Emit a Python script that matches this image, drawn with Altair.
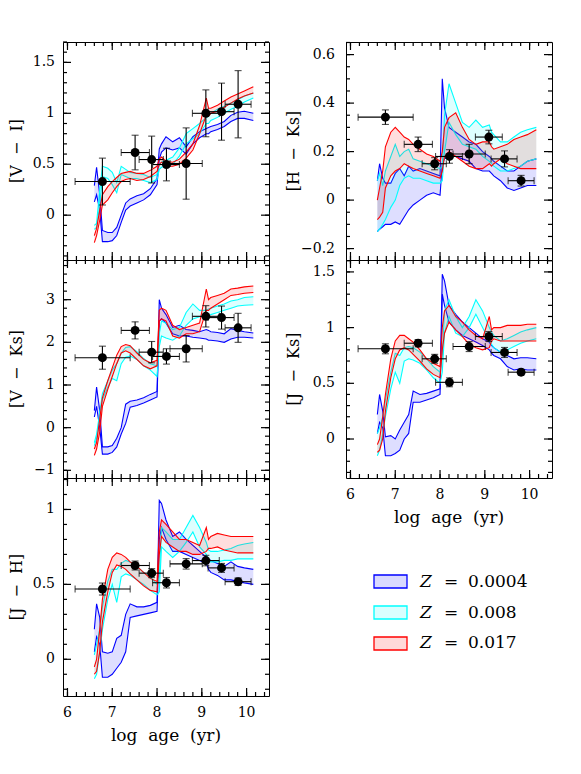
import altair as alt
import pandas as pd

FONT = "DejaVu Serif"
NB = "\u00a0"

# ---------------- model grid (log age) ----------------
AGE = [6.6, 6.65, 6.72, 6.78, 6.9, 7.0, 7.1, 7.2, 7.3, 7.4, 7.55, 7.7, 7.85, 8.0,
       8.05, 8.1, 8.2, 8.35, 8.5, 8.65, 8.8, 8.95, 9.1, 9.15, 9.2, 9.35, 9.5,
       9.65, 9.8, 9.95, 10.15]

Z_LABELS = ["0.0004", "0.008", "0.017"]
Z_COLORS = ["#0000ff", "#00ffff", "#ff0000"]

# ---------------- [V - I] ----------------
VI_BLUE_LO = [0.13, 0.2, 0.05, -0.26, -0.26, -0.25, -0.2, -0.07, 0.05, 0.09, 0.12, 0.15, 0.2, 0.3,
              0.55, 0.62, 0.66, 0.64, 0.66, 0.6, 0.7, 0.76, 0.8, 0.8, 0.82, 0.84, 0.87, 0.92, 0.95, 0.95, 0.93]
VI_BLUE_HI = [0.29, 0.47, 0.2, -0.15, -0.17, -0.17, -0.12, 0.0, 0.12, 0.16, 0.19, 0.21, 0.26, 0.36,
              0.65, 0.7, 0.77, 0.72, 0.76, 0.67, 0.77, 0.82, 0.85, 0.86, 0.87, 0.89, 0.92, 0.98, 1.01, 1.02, 1.0]
VI_CYAN_LO = [-0.14, -0.12, 0.1, 0.38, 0.36, 0.3, 0.22, 0.4, 0.38, 0.36, 0.36, 0.34, 0.32, 0.35,
              0.45, 0.47, 0.48, 0.5, 0.58, 0.7, 0.75, 0.8, 0.9, 0.9, 0.93, 0.96, 1.0, 1.04, 1.07, 1.11, 1.15]
VI_CYAN_HI = [-0.1, -0.08, 0.25, 0.48, 0.46, 0.42, 0.32, 0.48, 0.45, 0.42, 0.41, 0.4, 0.37, 0.4,
              0.5, 0.52, 0.54, 0.57, 0.66, 0.8, 0.85, 0.9, 0.96, 0.97, 1.0, 1.04, 1.07, 1.1, 1.13, 1.17, 1.2]
VI_RED_LO = [-0.27, -0.2, -0.05, 0.1, 0.15, 0.22, 0.28, 0.33, 0.35, 0.36, 0.34, 0.35, 0.38, 0.43,
             0.5, 0.52, 0.48, 0.48, 0.5, 0.56, 0.64, 0.8, 0.98, 0.97, 1.0, 1.02, 1.06, 1.1, 1.14, 1.17, 1.2]
VI_RED_HI = [-0.2, -0.13, 0.05, 0.2, 0.28, 0.33, 0.37, 0.41, 0.42, 0.43, 0.41, 0.41, 0.44, 0.48,
             0.55, 0.57, 0.53, 0.52, 0.55, 0.62, 0.7, 0.88, 1.15, 1.05, 1.05, 1.08, 1.12, 1.16, 1.19, 1.22, 1.26]

# ---------------- [H - Ks] ----------------
HK_BLUE_LO = [-0.13, -0.12, -0.11, -0.1, -0.1, -0.09, -0.1, -0.07, -0.04, -0.02, 0.0, 0.02, 0.03, 0.02,
              0.15, 0.17, 0.18, 0.18, 0.17, 0.16, 0.13, 0.12, 0.12, 0.11, 0.1, 0.08, 0.05, 0.04, 0.05, 0.06, 0.06]
HK_BLUE_HI = [0.08, 0.15, 0.09, 0.07, 0.07, 0.11, 0.13, 0.1, 0.14, 0.12, 0.13, 0.12, 0.11, 0.1,
              0.5, 0.38, 0.3, 0.28, 0.26, 0.24, 0.23, 0.2, 0.18, 0.17, 0.16, 0.14, 0.12, 0.12, 0.14, 0.16, 0.17]
HK_CYAN_LO = [-0.13, -0.12, -0.1, -0.08, -0.03, 0.0, 0.06, 0.09, 0.1, 0.09, 0.09, 0.08, 0.07, 0.07,
              0.08, 0.2, 0.32, 0.27, 0.23, 0.22, 0.21, 0.18, 0.16, 0.15, 0.14, 0.12, 0.12, 0.13, 0.14, 0.16, 0.17]
HK_CYAN_HI = [0.08, 0.11, 0.06, 0.12, 0.18, 0.23, 0.18, 0.2, 0.21, 0.17, 0.16, 0.15, 0.14, 0.13,
              0.14, 0.35, 0.48, 0.4, 0.32, 0.3, 0.33, 0.3, 0.31, 0.28, 0.27, 0.24, 0.24, 0.26, 0.28, 0.29, 0.3]
HK_RED_LO = [-0.08, -0.07, -0.05, 0.05, 0.1, 0.12, 0.13, 0.15, 0.14, 0.13, 0.12, 0.11, 0.1, 0.09,
             0.12, 0.18, 0.2, 0.18, 0.16, 0.14, 0.13, 0.13, 0.15, 0.14, 0.15, 0.17, 0.15, 0.14, 0.13, 0.13, 0.13]
HK_RED_HI = [0.0, 0.05, 0.12, 0.22, 0.28, 0.3, 0.28, 0.26, 0.25, 0.23, 0.21, 0.19, 0.18, 0.16,
             0.2, 0.3, 0.34, 0.36, 0.3, 0.25, 0.23, 0.24, 0.24, 0.22, 0.21, 0.22, 0.23, 0.25, 0.26, 0.27, 0.29]

# ---------------- [V - Ks] ----------------
VK_BLUE_LO = [0.25, 0.5, 0.0, -0.62, -0.62, -0.58, -0.45, -0.15, 0.1, 0.48, 0.52, 0.58, 0.65, 0.72,
              2.5, 2.55, 2.45, 2.2, 2.15, 2.15, 2.12, 2.1, 2.08, 2.05, 2.05, 2.03, 2.0, 2.08, 2.12, 2.12, 2.1]
VK_BLUE_HI = [0.4, 0.95, 0.4, -0.45, -0.45, -0.42, -0.25, 0.0, 0.55, 0.62, 0.65, 0.7, 0.78, 0.85,
              3.0, 2.8, 2.65, 2.35, 2.4, 2.3, 2.28, 2.25, 2.3, 2.28, 2.25, 2.23, 2.2, 2.32, 2.28, 2.25, 2.22]
VK_CYAN_LO = [-0.42, -0.25, 0.2, 0.65, 0.95, 1.15, 1.1, 1.5, 1.65, 1.68, 1.6, 1.45, 1.35, 1.2,
              1.9, 2.15, 2.1, 2.05, 2.15, 2.4, 2.55, 2.6, 2.62, 2.62, 2.65, 2.7, 2.75, 2.8, 2.85, 2.87, 2.88]
VK_CYAN_HI = [-0.35, -0.15, 0.35, 0.8, 1.1, 1.35, 1.5, 1.75, 1.88, 1.9, 1.78, 1.62, 1.5, 1.45,
              2.2, 2.5, 2.45, 2.3, 2.35, 2.7, 2.9, 2.75, 2.75, 2.78, 2.8, 2.85, 2.9, 2.97, 3.0, 3.05, 3.07]
VK_RED_LO = [-0.65, -0.5, -0.1, 0.5, 0.9, 1.2, 1.5, 1.75, 1.8, 1.75, 1.6, 1.45, 1.38, 1.45,
             2.5, 2.55, 2.5, 2.15, 2.1, 2.2, 2.2, 2.25, 2.75, 2.75, 2.8, 2.9, 3.0, 3.1, 3.12, 3.15, 3.17]
VK_RED_HI = [-0.5, -0.35, 0.2, 0.7, 1.1, 1.4, 1.7, 1.9, 1.95, 1.92, 1.75, 1.6, 1.52, 1.58,
             2.75, 2.8, 2.75, 2.4, 2.3, 2.35, 2.4, 2.45, 3.25, 3.0, 3.05, 3.1, 3.15, 3.25, 3.27, 3.3, 3.32]

# ---------------- [J - Ks] ----------------
JK_BLUE_LO = [0.05, 0.15, 0.1, -0.15, -0.15, -0.13, -0.1, 0.0, 0.05, 0.33, 0.33, 0.35, 0.37, 0.4,
              1.3, 1.2, 1.05, 0.98, 0.93, 0.9, 0.87, 0.84, 0.8, 0.77, 0.75, 0.72, 0.65, 0.62, 0.63, 0.62, 0.62]
JK_BLUE_HI = [0.22, 0.4, 0.25, 0.02, 0.03, 0.0, 0.08, 0.15, 0.22, 0.43, 0.4, 0.41, 0.43, 0.45,
              1.48, 1.42, 1.2, 1.12, 1.05, 1.0, 0.95, 0.9, 0.87, 0.84, 0.82, 0.78, 0.75, 0.72, 0.73, 0.73, 0.72]
JK_CYAN_LO = [-0.15, -0.1, 0.05, 0.2, 0.45, 0.6, 0.5, 0.7, 0.72, 0.71, 0.68, 0.62, 0.55, 0.5,
              0.6, 0.95, 1.1, 0.95, 0.92, 1.0, 1.12, 1.0, 0.88, 0.85, 0.82, 0.78, 0.8, 0.83, 0.86, 0.88, 0.9]
JK_CYAN_HI = [0.05, 0.1, 0.2, 0.35, 0.6, 0.77, 0.75, 0.82, 0.83, 0.82, 0.78, 0.72, 0.65, 0.6,
              0.75, 1.15, 1.25, 1.1, 1.0, 1.1, 1.25, 1.15, 1.0, 0.96, 0.93, 0.88, 0.9, 0.93, 0.96, 0.98, 1.0]
JK_RED_LO = [-0.12, -0.1, 0.0, 0.25, 0.55, 0.72, 0.8, 0.82, 0.8, 0.76, 0.7, 0.63, 0.58, 0.55,
             0.8, 0.95, 1.05, 0.98, 0.92, 0.85, 0.82, 0.8, 0.82, 0.88, 0.9, 0.88, 0.88, 0.88, 0.88, 0.88, 0.88]
JK_RED_HI = [-0.05, 0.0, 0.2, 0.4, 0.72, 0.88, 0.93, 0.93, 0.9, 0.87, 0.8, 0.72, 0.68, 0.65,
             1.0, 1.15, 1.2, 1.1, 1.05, 0.98, 0.93, 0.9, 1.1, 0.98, 1.0, 1.0, 1.02, 1.02, 1.02, 1.03, 1.03]

# ---------------- [J - H] ----------------
JH_BLUE_LO = [0.05, 0.15, 0.1, -0.12, -0.12, -0.1, -0.06, -0.02, 0.05, 0.28, 0.29, 0.3, 0.31, 0.32,
              0.8, 0.88, 0.8, 0.72, 0.72, 0.7, 0.68, 0.66, 0.64, 0.6, 0.58, 0.56, 0.53, 0.53, 0.52, 0.51, 0.5]
JH_BLUE_HI = [0.2, 0.37, 0.28, 0.05, 0.04, 0.05, 0.14, 0.16, 0.3, 0.37, 0.35, 0.35, 0.36, 0.38,
              1.06, 1.04, 0.93, 0.82, 0.85, 0.8, 0.76, 0.72, 0.68, 0.67, 0.66, 0.64, 0.62, 0.65, 0.62, 0.61, 0.6]
JH_CYAN_LO = [-0.13, -0.1, 0.05, 0.2, 0.4, 0.5, 0.38, 0.55, 0.57, 0.56, 0.53, 0.5, 0.46, 0.43,
              0.45, 0.75, 0.72, 0.68, 0.72, 0.78, 0.85, 0.75, 0.7, 0.66, 0.65, 0.65, 0.66, 0.66, 0.67, 0.67, 0.67]
JH_CYAN_HI = [0.03, 0.1, 0.2, 0.35, 0.52, 0.6, 0.6, 0.64, 0.66, 0.65, 0.62, 0.58, 0.55, 0.5,
              0.55, 0.88, 0.85, 0.8, 0.8, 0.88, 0.96, 0.88, 0.78, 0.73, 0.72, 0.72, 0.73, 0.74, 0.76, 0.77, 0.78]
JH_RED_LO = [-0.1, -0.08, 0.05, 0.25, 0.45, 0.58, 0.63, 0.62, 0.6, 0.57, 0.53, 0.49, 0.46, 0.45,
             0.7, 0.82, 0.78, 0.75, 0.72, 0.72, 0.7, 0.7, 0.72, 0.74, 0.74, 0.75, 0.73, 0.72, 0.71, 0.71, 0.71]
JH_RED_HI = [-0.05, 0.0, 0.2, 0.4, 0.6, 0.68, 0.71, 0.7, 0.68, 0.65, 0.62, 0.58, 0.54, 0.52,
             0.85, 0.93, 0.9, 0.85, 0.8, 0.8, 0.78, 0.76, 0.88, 0.8, 0.82, 0.84, 0.83, 0.82, 0.82, 0.82, 0.82]

# ---------------- cluster data points ----------------
PT_AGE = [6.78, 7.51, 7.88, 8.21, 8.65, 9.09, 9.44, 9.81]
PT_AGE_LO = [6.17, 7.2, 7.6, 7.9, 8.29, 8.79, 9.14, 9.52]
PT_AGE_HI = [7.4, 7.83, 8.14, 8.5, 9.01, 9.39, 9.72, 10.1]
VI_PT = [0.33, 0.615, 0.546, 0.497, 0.507, 1.0, 1.016, 1.089]
VI_ERR = [0.23, 0.17, 0.23, 0.16, 0.35, 0.23, 0.28, 0.33]
VK_PT = [1.64, 2.28, 1.77, 1.67, 1.85, 2.61, 2.58, 2.34]
VK_ERR = [0.27, 0.2, 0.25, 0.18, 0.31, 0.25, 0.27, 0.34]
JH_PT = [0.469, 0.626, 0.575, 0.511, 0.637, 0.659, 0.61, 0.518]
JH_ERR = [0.04, 0.03, 0.03, 0.035, 0.035, 0.035, 0.03, 0.025]
HK_PT = [0.342, 0.23, 0.15, 0.18, 0.19, 0.26, 0.17, 0.08]
HK_ERR = [0.03, 0.03, 0.025, 0.028, 0.04, 0.028, 0.033, 0.022]
JK_PT = [0.81, 0.86, 0.72, 0.509, 0.83, 0.92, 0.777, 0.60]
JK_ERR = [0.045, 0.033, 0.04, 0.04, 0.045, 0.045, 0.045, 0.025]

W, H = 206, 218
MAJ_LEN, MIN_LEN = 8, 4
X_DOMAIN = [5.9, 10.5]
X_MAJOR = [6, 7, 8, 9, 10]
XTITLE = "log" + NB * 2 + "age" + NB * 2 + "(yr)"


def tick_list(a, b, step):
    n = int(round((b - a) / step))
    return [round(a + i * step, 3) for i in range(n + 1)]


X_MINOR = tick_list(6.0, 10.4, 0.2)


def inward_ticks(values, length, xs, ys, ydom, along):
    """Frame tick marks: two rules per value, reaching inward from opposite edges."""
    out = []
    if along == "y":
        d = length * (X_DOMAIN[1] - X_DOMAIN[0]) / W
        ends = ((X_DOMAIN[0], X_DOMAIN[0] + d), (X_DOMAIN[1], X_DOMAIN[1] - d))
    else:
        d = length * (ydom[1] - ydom[0]) / H
        ends = ((ydom[0], ydom[0] + d), (ydom[1], ydom[1] - d))
    for a, b in ends:
        df = pd.DataFrame({"tv": values, "ta": [a] * len(values), "tb": [b] * len(values)})
        if along == "y":
            enc = dict(y=alt.Y("tv:Q", scale=ys, axis=None),
                       x=alt.X("ta:Q", scale=xs, axis=None), x2="tb:Q")
        else:
            enc = dict(x=alt.X("tv:Q", scale=xs, axis=None),
                       y=alt.Y("ta:Q", scale=ys, axis=None), y2="tb:Q")
        out.append(alt.Chart(df).mark_rule(color="black", strokeWidth=1.2, opacity=1).encode(**enc))
    return out


def panel(ytitle, ydom, ymaj, ymin, bands, pts, errs, bottom, tx, lpad):
    xs = alt.Scale(domain=X_DOMAIN, nice=False, zero=False)
    ys = alt.Scale(domain=ydom, nice=False, zero=False)
    layers = []
    for (lo, hi), col in zip(bands, Z_COLORS):
        df = pd.DataFrame({"age": AGE, "lo": lo, "hi": hi})
        layers.append(alt.Chart(df).mark_area(color=col, opacity=0.13, clip=True).encode(
            x=alt.X("age:Q", scale=xs, axis=None),
            y=alt.Y("lo:Q", scale=ys, axis=None),
            y2=alt.Y2("hi:Q")))
        for f in ("lo", "hi"):
            layers.append(alt.Chart(df).mark_line(color=col, strokeWidth=1.1, clip=True).encode(
                x=alt.X("age:Q", scale=xs, axis=None),
                y=alt.Y(f"{f}:Q", scale=ys, axis=None)))

    # cluster points with error bars
    pdf = pd.DataFrame({"age": PT_AGE, "alo": PT_AGE_LO, "ahi": PT_AGE_HI, "y": pts, "err": errs})
    pdf["ylo"] = pdf["y"] - pdf["err"]
    pdf["yhi"] = pdf["y"] + pdf["err"]
    vcap = pd.DataFrame({"x": PT_AGE_LO + PT_AGE_HI, "y": list(pts) * 2})
    hcap = pd.DataFrame({"x": PT_AGE * 2, "y": list(pdf["ylo"]) + list(pdf["yhi"])})

    layers.append(alt.Chart(pdf).mark_rule(color="black", strokeWidth=1.1).encode(
        x=alt.X("alo:Q", scale=xs, axis=None), x2="ahi:Q",
        y=alt.Y("y:Q", scale=ys, axis=None)))
    layers.append(alt.Chart(pdf).mark_rule(color="black", strokeWidth=1.1).encode(
        x=alt.X("age:Q", scale=xs, axis=None),
        y=alt.Y("ylo:Q", scale=ys, axis=None), y2="yhi:Q"))
    layers.append(alt.Chart(vcap).mark_tick(orient="vertical", size=7, thickness=1.1, color="black").encode(
        x=alt.X("x:Q", scale=xs, axis=None), y=alt.Y("y:Q", scale=ys, axis=None)))
    layers.append(alt.Chart(hcap).mark_tick(orient="horizontal", size=7, thickness=1.1, color="black").encode(
        x=alt.X("x:Q", scale=xs, axis=None), y=alt.Y("y:Q", scale=ys, axis=None)))
    layers.append(alt.Chart(pdf).mark_circle(size=80, color="black", opacity=1).encode(
        x=alt.X("age:Q", scale=xs, axis=None), y=alt.Y("y:Q", scale=ys, axis=None)))

    # y tick labels and title
    layers.append(alt.Chart(pd.DataFrame({"lab": ymaj})).mark_text(
        align="right", baseline="middle", font=FONT, fontSize=14, color="black").encode(
        y=alt.Y("lab:Q", scale=ys, axis=None), x=alt.value(-lpad),
        text=alt.Text("lab:Q", format="~r")))
    layers.append(alt.Chart(pd.DataFrame({"t": [ytitle]})).mark_text(
        align="center", baseline="bottom", angle=270, font=FONT, fontSize=16, color="black").encode(
        x=alt.value(tx), y=alt.value(H / 2), text="t:N"))
    if bottom:
        layers.append(alt.Chart(pd.DataFrame({"lab": X_MAJOR})).mark_text(
            align="center", baseline="top", font=FONT, fontSize=14, color="black").encode(
            x=alt.X("lab:Q", scale=xs, axis=None), y=alt.value(H + 10),
            text=alt.Text("lab:Q", format="~r")))
        layers.append(alt.Chart(pd.DataFrame({"t": [XTITLE]})).mark_text(
            align="center", baseline="top", font=FONT, fontSize=17, color="black").encode(
            x=alt.value(W / 2), y=alt.value(H + 32), text="t:N"))

    # frame ticks, drawn last so nothing covers them
    layers += inward_ticks(ymaj, MAJ_LEN, xs, ys, ydom, "y")
    layers += inward_ticks(ymin, MIN_LEN, xs, ys, ydom, "y")
    layers += inward_ticks(X_MAJOR, MAJ_LEN, xs, ys, ydom, "x")
    layers += inward_ticks(X_MINOR, MIN_LEN, xs, ys, ydom, "x")

    return alt.layer(*layers).properties(width=W, height=H)


def title(a, b):
    return "[" + a + NB * 2 + "\u2212" + NB * 2 + b + "]"


vi = panel(title("V", "I"), [-0.44, 1.7], [0, 0.5, 1, 1.5], tick_list(-0.4, 1.7, 0.1),
           [(VI_BLUE_LO, VI_BLUE_HI), (VI_CYAN_LO, VI_CYAN_HI), (VI_RED_LO, VI_RED_HI)],
           VI_PT, VI_ERR, False, -38, 8)
vk = panel(title("V", "Ks"), [-1.18, 3.93], [-1, 0, 1, 2, 3], tick_list(-1.0, 3.8, 0.2),
           [(VK_BLUE_LO, VK_BLUE_HI), (VK_CYAN_LO, VK_CYAN_HI), (VK_RED_LO, VK_RED_HI)],
           VK_PT, VK_ERR, False, -38, 8)
jh = panel(title("J", "H"), [-0.245, 1.21], [0, 0.5, 1], tick_list(-0.2, 1.2, 0.1),
           [(JH_BLUE_LO, JH_BLUE_HI), (JH_CYAN_LO, JH_CYAN_HI), (JH_RED_LO, JH_RED_HI)],
           JH_PT, JH_ERR, True, -38, 8)
hk = panel(title("H", "Ks"), [-0.247, 0.652], [-0.2, 0, 0.2, 0.4, 0.6], tick_list(-0.2, 0.65, 0.05),
           [(HK_BLUE_LO, HK_BLUE_HI), (HK_CYAN_LO, HK_CYAN_HI), (HK_RED_LO, HK_RED_HI)],
           HK_PT, HK_ERR, False, -44, 11)
jk = panel(title("J", "Ks"), [-0.35, 1.607], [0, 0.5, 1, 1.5], tick_list(-0.3, 1.6, 0.1),
           [(JK_BLUE_LO, JK_BLUE_HI), (JK_CYAN_LO, JK_CYAN_HI), (JK_RED_LO, JK_RED_HI)],
           JK_PT, JK_ERR, True, -44, 11)

# ---------------- legend panel ----------------
leg_df = pd.DataFrame({"z": Z_LABELS})
yleg = alt.Y("z:N", scale=alt.Scale(domain=Z_LABELS, range=[97, 172], paddingInner=0.58, paddingOuter=0),
             axis=None)
zfill = alt.Fill("z:N", scale=alt.Scale(domain=Z_LABELS, range=Z_COLORS), legend=None)
zstroke = alt.Stroke("z:N", scale=alt.Scale(domain=Z_LABELS, range=Z_COLORS), legend=None)
leg_box = alt.Chart(leg_df).mark_bar(fillOpacity=0.15, strokeWidth=1.3).encode(
    x=alt.value(28), x2=alt.value(61), y=yleg, fill=zfill, stroke=zstroke)
leg_z = alt.Chart(leg_df).mark_text(align="left", baseline="middle", font=FONT, fontSize=17,
                                    fontStyle="italic", color="black").encode(
    x=alt.value(74), y=yleg, text=alt.value("Z"))
leg_eq = alt.Chart(leg_df).mark_text(align="left", baseline="middle", font=FONT, fontSize=17,
                                     color="black").encode(
    x=alt.value(98), y=yleg, text=alt.value("="))
leg_val = alt.Chart(leg_df).mark_text(align="left", baseline="middle", font=FONT, fontSize=17,
                                      color="black").encode(
    x=alt.value(122), y=yleg, text=alt.Text("z:N"))
legend = alt.layer(leg_box, leg_z, leg_eq, leg_val).properties(
    width=W, height=200, view=alt.ViewBackground(stroke="transparent"))

chart = alt.concat(vi, hk, vk, jk, jh, legend, columns=2,
                   spacing={"row": 0, "column": 77}, bounds="flush").properties(
    padding={"left": 0, "top": 32, "right": 5, "bottom": 5},
    background="white",
).configure_view(stroke="black", strokeWidth=1)

chart.save("out.html", embed_options={"renderer": "svg", "actions": False})
